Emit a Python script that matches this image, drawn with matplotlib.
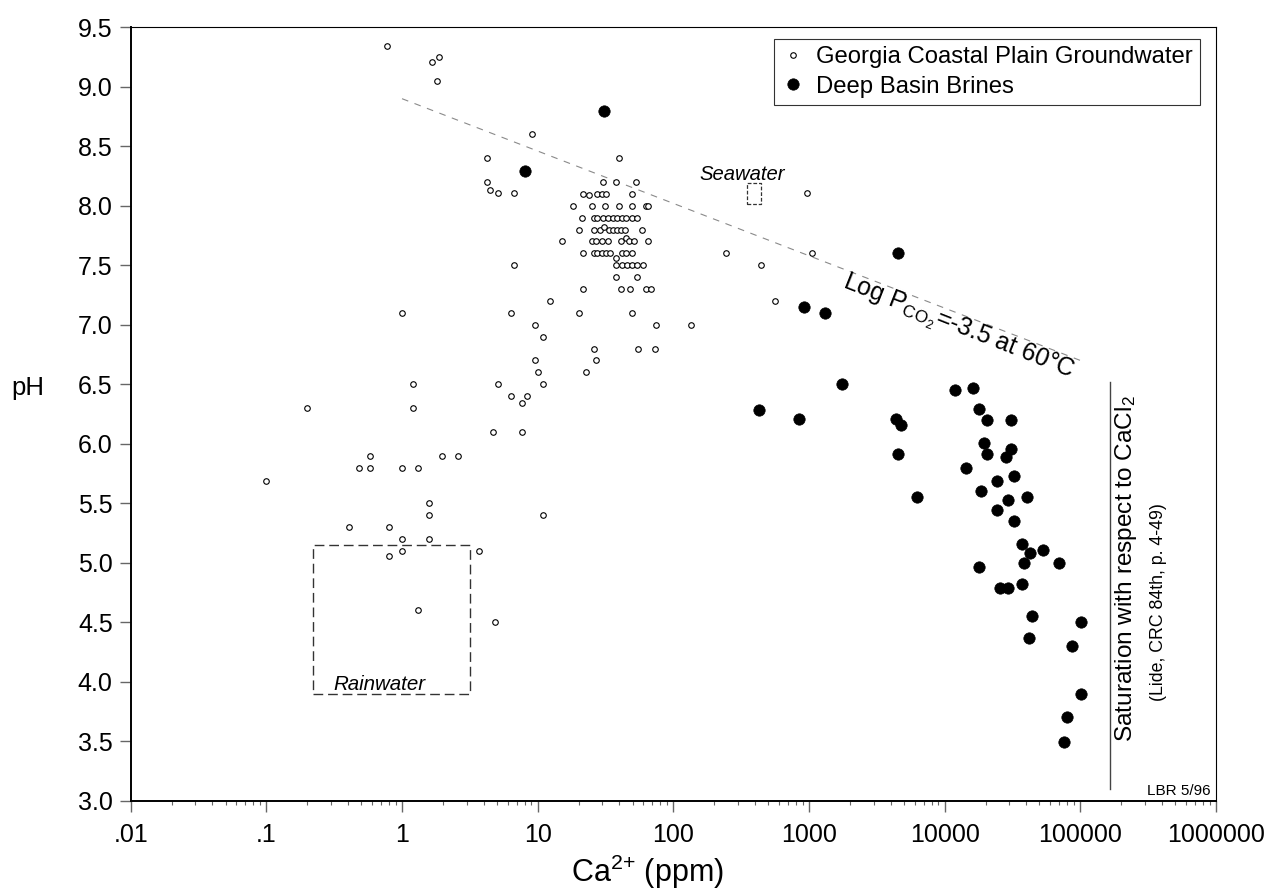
import math
import matplotlib
matplotlib.use("Agg")
import matplotlib.pyplot as plt
from matplotlib.ticker import FixedLocator, FixedFormatter, NullFormatter

plt.rcParams['font.family'] = ['Liberation Sans', 'DejaVu Sans']
plt.rcParams['mathtext.default'] = 'regular'

# ---------------- data ----------------
# Georgia Coastal Plain Groundwater (Ca ppm, pH)
gw_ca = [0.77, 1.65, 1.88, 1.80, 9.1, 4.2, 40, 4.2, 4.45, 5.1, 6.7, 30.5, 37.8, 53, 960,
         21.7, 24.0, 27.5, 29.7, 31.9, 49.8,
         18.3, 25.3, 31.5, 39.5, 49.6, 62.9, 65.3,
         21.1, 26.0, 27.5, 30.5, 32.8, 35.7, 38.3, 41.6, 44.8, 49.8, 53.7,
         20.2, 26.0, 28.8, 31.0, 33.6, 36.1, 38.6, 41.3, 44.2, 59.0,
         15.2, 25.3, 26.9, 29.9, 33.2, 41.1, 44.8, 47.3, 51.3, 64.7,
         21.7, 26.0, 27.5, 29.7, 31.7, 34.1, 41.6, 44.8, 49.3, 37.8, 245, 1057,
         6.7, 37.8, 41.6, 45.3, 49.3, 54.2, 60.0, 445,
         37.8, 54.2,
         21.7, 41.1, 47.9, 62.9, 68.1,
         12.3, 560,
         1.0, 6.4, 20.2, 49.8,
         9.6, 75, 136,
         11.0,
         25.8, 54.5, 73,
         9.6, 27.0,
         10.0, 22.6,
         1.2, 5.1, 11.0,
         6.4, 8.4, 7.6,
         0.2, 1.2,
         4.65, 7.6,
         0.585, 1.97, 2.58,
         0.485, 0.585, 1.0, 1.31,
         0.1,
         1.57, 1.57, 11.0,
         0.405, 0.80,
         1.0, 1.57,
         1.0, 3.72, 0.80,
         1.31, 4.87]
gw_ph = [9.34, 9.21, 9.25, 9.05, 8.60, 8.40, 8.40, 8.20, 8.13, 8.11, 8.11, 8.20, 8.20, 8.20, 8.11,
         8.10, 8.09, 8.10, 8.10, 8.10, 8.10,
         8.0, 8.0, 8.0, 8.0, 8.0, 8.0, 8.0,
         7.9, 7.9, 7.9, 7.9, 7.9, 7.9, 7.9, 7.9, 7.9, 7.9, 7.9,
         7.8, 7.8, 7.8, 7.82, 7.8, 7.8, 7.8, 7.8, 7.8, 7.8,
         7.7, 7.7, 7.7, 7.7, 7.7, 7.7, 7.73, 7.7, 7.7, 7.7,
         7.6, 7.6, 7.6, 7.6, 7.6, 7.6, 7.6, 7.6, 7.6, 7.56, 7.6, 7.6,
         7.5, 7.5, 7.5, 7.5, 7.5, 7.5, 7.5, 7.5,
         7.4, 7.4,
         7.3, 7.3, 7.3, 7.3, 7.3,
         7.2, 7.2,
         7.1, 7.1, 7.1, 7.1,
         7.0, 7.0, 7.0,
         6.9,
         6.8, 6.8, 6.8,
         6.7, 6.7,
         6.6, 6.6,
         6.5, 6.5, 6.5,
         6.4, 6.4, 6.34,
         6.3, 6.3,
         6.1, 6.1,
         5.9, 5.9, 5.9,
         5.8, 5.8, 5.8, 5.8,
         5.69,
         5.5, 5.4, 5.4,
         5.3, 5.3,
         5.2, 5.2,
         5.1, 5.1, 5.06,
         4.6, 4.5]

# Deep Basin Brines (Ca ppm, pH)
br_ca = [8.0, 31, 4500, 920, 1320, 1740, 430, 840, 4400, 4800, 4500, 6200,
         11900, 16300, 18000, 20600, 30700, 19600, 20600, 30700, 28200, 14300,
         24400, 32500, 18600, 29400, 40600, 24400, 32500, 37000, 42600, 53300,
         17900, 38500, 69700, 25600, 29400, 37000, 44300, 100700, 42100, 87300,
         100700, 79400, 76200]
br_ph = [8.29, 8.80, 7.60, 7.15, 7.10, 6.50, 6.28, 6.21, 6.21, 6.16, 5.91, 5.55,
         6.45, 6.47, 6.29, 6.20, 6.20, 6.01, 5.91, 5.96, 5.89, 5.80,
         5.69, 5.73, 5.60, 5.53, 5.55, 5.44, 5.35, 5.16, 5.08, 5.11,
         4.96, 5.00, 5.00, 4.79, 4.79, 4.82, 4.55, 4.50, 4.37, 4.30,
         3.90, 3.70, 3.49]

# reference line: log PCO2 = -3.5 at 60 C
pco2_ca = [1.0, 1.0e5]
pco2_ph = [8.9, 6.7]

# rainwater and seawater boxes (Ca range, pH range)
rain_ca = [0.221, 3.16]
rain_ph = [3.90, 5.15]
sea_ca = [350, 443]
sea_ph = [8.015, 8.195]

# CaCl2 saturation line
sat_ca = 1.656e5
sat_ph = [3.1, 6.52]

x_ticks = [0.01, 0.1, 1, 10, 100, 1000, 10000, 100000, 1000000]
x_tick_labels = ['.01', '.1', '1', '10', '100', '1000', '10000', '100000', '1000000']
y_ticks = [3.0, 3.5, 4.0, 4.5, 5.0, 5.5, 6.0, 6.5, 7.0, 7.5, 8.0, 8.5, 9.0, 9.5]

# ---------------- figure ----------------
fig = plt.figure(figsize=(12.68, 8.90), dpi=100)
ax = fig.add_axes([130.7 / 1268, 1 - 800.7 / 890, (1216 - 130.7) / 1268, (800.7 - 27.3) / 890])
ax.set_xscale('log')
ax.set_xlim(0.01, 1e6)
ax.set_ylim(3.0, 9.5)

ax.plot(gw_ca, gw_ph, linestyle='none', marker='o', markersize=4.0,
        markerfacecolor='white', markeredgecolor='black', markeredgewidth=0.8,
        label='Georgia Coastal Plain Groundwater', zorder=3)
ax.plot(br_ca, br_ph, linestyle='none', marker='o', markersize=8.2,
        markerfacecolor='black', markeredgecolor='black', markeredgewidth=0.5,
        label='Deep Basin Brines', zorder=4)

ax.plot(pco2_ca, pco2_ph, color='#8a8a8a', linewidth=0.8, linestyle=(0, (6, 6)), zorder=2)

# boxes
ax.plot([rain_ca[0], rain_ca[1], rain_ca[1], rain_ca[0], rain_ca[0]],
        [rain_ph[0], rain_ph[0], rain_ph[1], rain_ph[1], rain_ph[0]],
        color='#333333', linewidth=1.0, linestyle=(0, (7, 3.5)), zorder=2)
ax.plot([sea_ca[0], sea_ca[1], sea_ca[1], sea_ca[0], sea_ca[0]],
        [sea_ph[0], sea_ph[0], sea_ph[1], sea_ph[1], sea_ph[0]],
        color='#333333', linewidth=0.9, linestyle=(0, (3, 1.5)), zorder=2)

ax.plot([sat_ca, sat_ca], sat_ph, color='#444444', linewidth=1.0, zorder=2)

# texts
ax.text(0.676, 3.93, 'Rainwater', style='italic', fontsize=14.8, ha='center', va='baseline')
ax.text(321, 8.217, 'Seawater', style='italic', fontsize=14.6, ha='center', va='baseline')

p1 = ax.transData.transform((pco2_ca[0], pco2_ph[0]))
p2 = ax.transData.transform((pco2_ca[1], pco2_ph[1]))
ang = math.degrees(math.atan2(p2[1] - p1[1], p2[0] - p1[0]))
ax.text(12650, 6.975, 'Log P$_{CO_2}$=-3.5 at 60°C', fontsize=17.8, rotation=ang - 0.5,
        rotation_mode='anchor', ha='center', va='center')

ax.text(2.17e5, 4.95, 'Saturation with respect to CaCl$_2$', fontsize=17.6,
        rotation=90, ha='center', va='center')
ax.text(3.77e5, 4.672, '(Lide, CRC 84th, p. 4-49)', fontsize=12.8,
        rotation=90, ha='center', va='center')
ax.text(9.2e5, 3.05, 'LBR 5/96', fontsize=11, ha='right', va='baseline')

# axes styling
for side in ['left', 'bottom']:
    ax.spines[side].set_linewidth(1.4)
for side in ['top', 'right']:
    ax.spines[side].set_linewidth(0.8)

ax.xaxis.set_major_locator(FixedLocator(x_ticks))
ax.xaxis.set_major_formatter(FixedFormatter(x_tick_labels))
minor = [m * 10.0 ** e for e in range(-2, 6) for m in range(2, 10)]
ax.xaxis.set_minor_locator(FixedLocator(minor))
ax.xaxis.set_minor_formatter(NullFormatter())
ax.set_yticks(y_ticks)
ax.set_yticklabels(['%.1f' % v for v in y_ticks])

ax.tick_params(axis='both', which='major', direction='out', length=8, width=1.0,
               color='#666666', labelsize=18, labelcolor='black')
ax.tick_params(axis='x', which='major', pad=8)
ax.tick_params(axis='y', which='major', pad=5)
ax.tick_params(axis='x', which='minor', direction='out', length=3.2, width=0.8, color='#666666')
ax.tick_params(top=False, right=False, which='both')

ax.set_xlabel('Ca$^{2{+}}$ (ppm)', fontsize=22)
ax.xaxis.label.set_va('baseline')
ax.xaxis.set_label_coords(0.4757, -0.1055)
ax.set_ylabel('pH', fontsize=18.5, rotation=0)
ax.yaxis.label.set_va('center')
ax.yaxis.label.set_ha('center')
ax.yaxis.set_label_coords(-0.0946, 0.533)

leg = ax.legend(loc='upper right', bbox_to_anchor=(0.9853, 0.9845), borderaxespad=0,
                fontsize=17.2, frameon=True, fancybox=False, edgecolor='black',
                handlelength=1.0, handletextpad=0.45, borderpad=0.3, labelspacing=0.3,
                numpoints=1)
leg.get_frame().set_linewidth(0.8)

fig.savefig('out.png', dpi=100)
